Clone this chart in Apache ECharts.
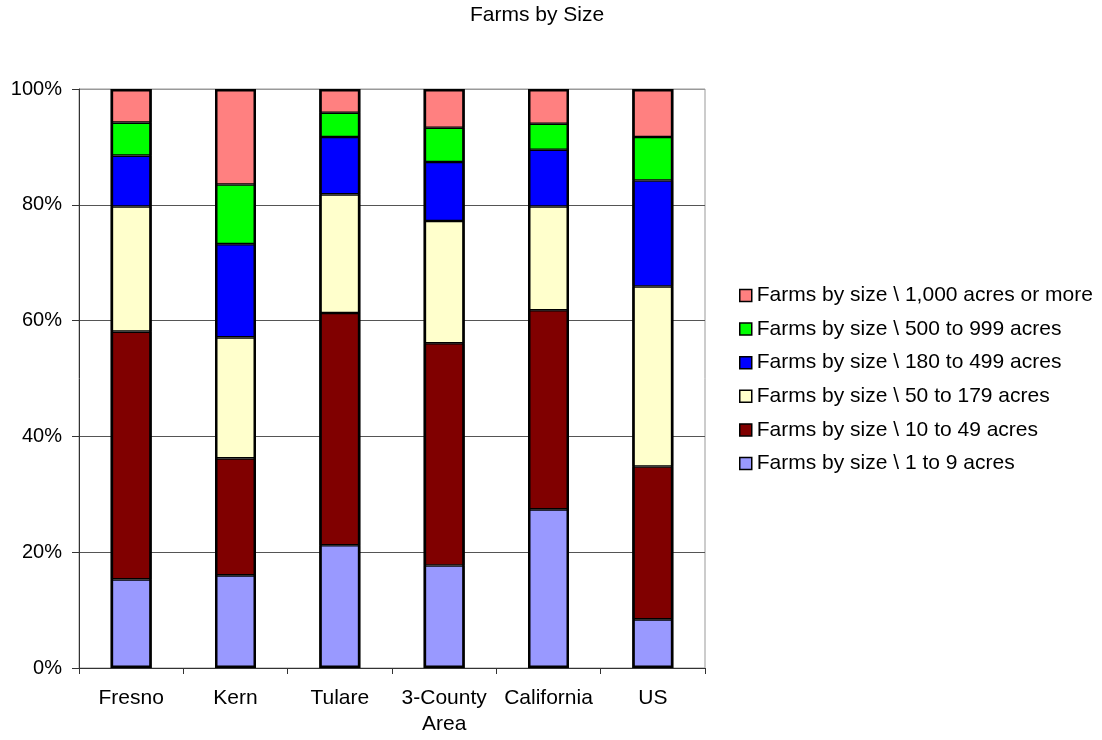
<!DOCTYPE html>
<html>
<head>
<meta charset="utf-8">
<script src="https://cdn.jsdelivr.net/npm/echarts@6/dist/echarts.min.js"></script>
<style>html,body{margin:0;padding:0;background:#fff}#c{width:1102px;height:740px}</style>
</head>
<body>
<div id="c"></div>
<script>
const categories = ['Fresno', 'Kern', 'Tulare', '3-County\nArea', 'California', 'US'];
const seriesNames = [
  'Farms by size \\ 1 to 9 acres',
  'Farms by size \\ 10 to 49 acres',
  'Farms by size \\ 50 to 179 acres',
  'Farms by size \\ 180 to 499 acres',
  'Farms by size \\ 500 to 999 acres',
  'Farms by size \\ 1,000 acres or more'
];
const acres1to9     = [15.3, 16.0, 21.2, 17.7, 27.4, 8.4];
const acres10to49   = [42.8, 20.2, 40.1, 38.4, 34.4, 26.4];
const acres50to179  = [21.6, 20.9, 20.5, 21.1, 17.9, 31.1];
const acres180to499 = [8.8, 16.1, 9.9, 10.2, 9.8, 18.3];
const acres500to999 = [5.7, 10.3, 4.2, 5.9, 4.5, 7.5];
const acres1000plus = [5.8, 16.5, 4.1, 6.7, 6.0, 8.3];
const yTicks = [0, 20, 40, 60, 80, 100];

const values = [acres1to9, acres10to49, acres50to179, acres180to499, acres500to999, acres1000plus];
const colors = ['#9999FF', '#800000', '#FFFFCC', '#0000FF', '#00FF00', '#FF8080'];
const totals = categories.map((_, j) => values.reduce((s, arr) => s + arr[j], 0));

const chart = echarts.init(document.getElementById('c'), null, {renderer: 'canvas'});
const font = 'Liberation Sans, Arial, sans-serif';
const series = values.map((v, i) => ({
  name: seriesNames[i], type: 'bar', stack: 'total', barWidth: 41, barGap: '-100%',
  data: v,
  itemStyle: {color: colors[i], borderColor: '#000', borderWidth: 1.3}
}));
series.push({
  name: 'outline', type: 'bar', barWidth: 41, barGap: '-100%', z: 3,
  data: totals, silent: true,
  itemStyle: {color: 'rgba(0,0,0,0)', borderColor: '#000', borderWidth: 2.5}
});
chart.setOption({
  animation: false,
  backgroundColor: '#fff',
  title: {
    text: 'Farms by Size', left: 470, top: 5, padding: 0,
    textStyle: {fontFamily: font, fontSize: 21, fontWeight: 'normal', color: '#000'}
  },
  legend: {
    orient: 'vertical', left: 739, top: 285, itemGap: 12.6, padding: 0,
    itemWidth: 12, itemHeight: 12,
    data: seriesNames.slice().reverse(),
    itemStyle: {borderColor: '#000', borderWidth: 1.5},
    textStyle: {fontFamily: font, fontSize: 21, color: '#000'},
    icon: 'rect'
  },
  grid: {left: 79, right: 397, top: 89, bottom: 72, show: true, borderColor: '#999', borderWidth: 1},
  xAxis: {
    type: 'category', data: categories,
    axisLine: {lineStyle: {color: '#333', width: 1}},
    axisTick: {show: true, length: 6, lineStyle: {color: '#333'}},
    axisLabel: {fontFamily: font, fontSize: 21, color: '#000', margin: 17, lineHeight: 26, interval: 0}
  },
  yAxis: {
    type: 'value', min: yTicks[0], max: yTicks[yTicks.length - 1], interval: 20,
    axisLine: {show: true, lineStyle: {color: '#333', width: 1}},
    axisTick: {show: true, length: 7, lineStyle: {color: '#333'}},
    axisLabel: {fontFamily: font, fontSize: 20, color: '#000', margin: 17, formatter: '{value}%'},
    splitLine: {show: true, lineStyle: {color: ['#555', '#555', '#555', '#555', '#555', '#999'], width: 1}}
  },
  series: series
});
</script>
</body>
</html>
